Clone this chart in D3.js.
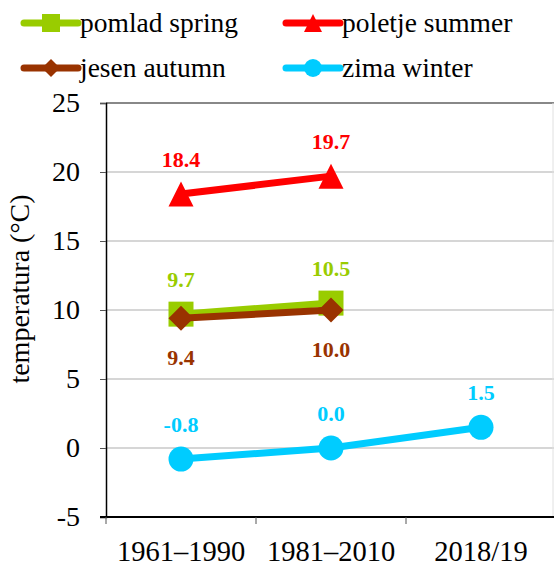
<!DOCTYPE html>
<html lang="sl">
<head>
  <meta charset="UTF-8" />
  <title>Temperatura po letnih časih</title>
  <script src="https://d3js.org/d3.v7.min.js"></script>
  <style>
    body { margin: 0; background: #fff; }
    svg { display: block; }
  </style>
</head>
<body>
  <div id="chart"></div>
  <script>
    const periods = ["1961–1990", "1981–2010", "2018/19"];
    const seriesNames = ["pomlad spring", "poletje summer", "jesen autumn", "zima winter"];
    const springVals = [9.7, 10.5, null];
    const summerVals = [18.4, 19.7, null];
    const autumnVals = [9.4, 10.0, null];
    const winterVals = [-0.8, 0.0, 1.5];
    const yTicks = [-5, 0, 5, 10, 15, 20, 25];

    const FONT = "'Liberation Serif', 'DejaVu Serif', serif";
    const width = 554, height = 565;
    const margin = {top: 103, right: -2, bottom: 48, left: 106};

    const svg = d3.select("#chart").append("svg")
      .attr("width", width)
      .attr("height", height)
      .attr("font-family", FONT);

    const x = d3.scaleBand().domain(periods).range([margin.left, width - margin.right]);
    const y = d3.scaleLinear().domain([-5, 25]).range([height - margin.bottom, margin.top]);

    // gridlines
    svg.append("g").selectAll("line")
      .data(yTicks.filter(t => t > -5))
      .enter().append("line")
      .attr("x1", margin.left).attr("x2", width)
      .attr("y1", d => y(d)).attr("y2", d => y(d))
      .attr("stroke", d => d === 25 ? "#888" : "#c8c8c8")
      .attr("stroke-width", d => d === 25 ? 2 : 1.5);

    // faint right border
    svg.append("line")
      .attr("x1", width - 1).attr("x2", width - 1)
      .attr("y1", y(25)).attr("y2", y(-5))
      .attr("stroke", "#e0e0e0");

    // axes
    const yAxis = svg.append("g")
      .attr("transform", `translate(${margin.left},0)`)
      .call(d3.axisLeft(y).tickValues(yTicks).tickSize(6).tickPadding(20).tickFormat(d => String(d)));
    yAxis.attr("font-family", FONT).attr("font-size", 28);
    yAxis.select(".domain").attr("stroke", "#000").attr("stroke-width", 1.5);
    yAxis.selectAll(".tick line").attr("stroke", "#555");
    yAxis.selectAll(".tick text").attr("fill", "#000");

    const xAxis = svg.append("g")
      .attr("transform", `translate(0,${y(-5)})`);
    xAxis.append("line")
      .attr("x1", margin.left - 6).attr("x2", width)
      .attr("y1", 0).attr("y2", 0)
      .attr("stroke", "#000").attr("stroke-width", 2);
    xAxis.selectAll(".xt")
      .data(periods)
      .enter().append("line")
      .attr("x1", d => x(d)).attr("x2", d => x(d))
      .attr("y1", 0).attr("y2", 7)
      .attr("stroke", "#555");
    xAxis.selectAll(".xl")
      .data(periods)
      .enter().append("text")
      .attr("x", d => x(d) + x.bandwidth() / 2)
      .attr("y", 44)
      .attr("text-anchor", "middle")
      .attr("font-family", FONT)
      .attr("font-size", 28.5)
      .text(d => d);

    svg.append("text")
      .attr("transform", "translate(29,289) rotate(-90)")
      .attr("text-anchor", "middle")
      .attr("font-family", FONT)
      .attr("font-size", 28)
      .text("temperatura (°C)");

    const cx = d => x(d) + x.bandwidth() / 2;

    const symbolPaths = {
      square: s => `M${-s/2},${-s/2}h${s}v${s}h${-s}Z`,
      triangle: s => `M0,${-s/2}L${s/2},${s/2}L${-s/2},${s/2}Z`,
      diamond: s => `M0,${-s/2}L${s/2},0L0,${s/2}L${-s/2},0Z`,
      circle: s => d3.symbol(d3.symbolCircle, Math.PI * (s/2) * (s/2))()
    };

    const series = [
      {name: seriesNames[0], values: springVals, color: "#99cc00", shape: "square", dy: -35},
      {name: seriesNames[1], values: summerVals, color: "#ff0000", shape: "triangle", dy: -35},
      {name: seriesNames[2], values: autumnVals, color: "#993300", shape: "diamond", dy: 39},
      {name: seriesNames[3], values: winterVals, color: "#00ccff", shape: "circle", dy: -35}
    ];

    const line = d3.line()
      .defined(d => d.v != null)
      .x(d => cx(d.p))
      .y(d => y(d.v));

    series.forEach(s => {
      const pts = periods.map((p, i) => ({p, v: s.values[i]}));
      const g = svg.append("g");
      g.append("path")
        .datum(pts)
        .attr("fill", "none")
        .attr("stroke", s.color)
        .attr("stroke-width", 7)
        .attr("d", line);
      g.selectAll("path.m")
        .data(pts.filter(d => d.v != null))
        .enter().append("path")
        .attr("class", "m")
        .attr("transform", d => `translate(${cx(d.p)},${y(d.v)})`)
        .attr("d", symbolPaths[s.shape](25))
        .attr("fill", s.color);
      g.selectAll("text")
        .data(pts.filter(d => d.v != null))
        .enter().append("text")
        .attr("x", d => cx(d.p))
        .attr("y", d => y(d.v) + s.dy)
        .attr("dy", "0.35em")
        .attr("text-anchor", "middle")
        .attr("font-family", FONT)
        .attr("font-size", 22)
        .attr("font-weight", "bold")
        .attr("fill", s.color)
        .text(d => d.v.toFixed(1));
    });

    // legend
    const legendPos = [[24, 23], [286, 23], [24, 68], [286, 68]];
    series.forEach((s, i) => {
      const [lx, ly] = legendPos[i];
      const g = svg.append("g").attr("transform", `translate(${lx},${ly})`);
      g.append("line")
        .attr("x1", 0).attr("x2", 54)
        .attr("y1", 0).attr("y2", 0)
        .attr("stroke", s.color)
        .attr("stroke-width", 7)
        .attr("stroke-linecap", "round");
      g.append("path")
        .attr("transform", "translate(27,0)")
        .attr("d", symbolPaths[s.shape](18))
        .attr("fill", s.color);
      g.append("text")
        .attr("x", 56)
        .attr("y", 9)
        .attr("font-family", FONT)
        .attr("font-size", 27.5)
        .text(s.name);
    });
  </script>
</body>
</html>
